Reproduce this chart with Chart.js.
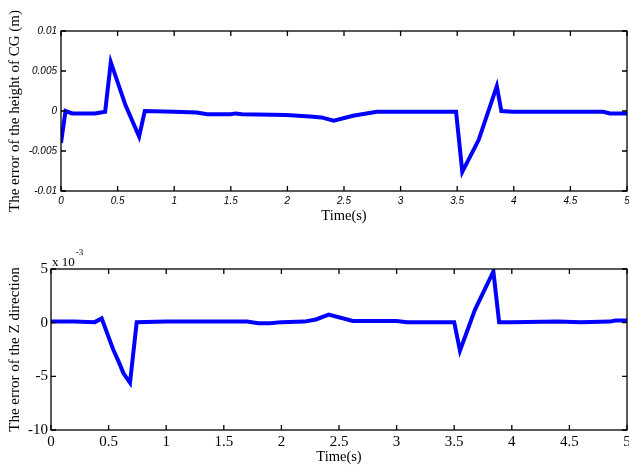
<!DOCTYPE html>
<html><head><meta charset="utf-8">
<script src="https://cdn.jsdelivr.net/npm/chart.js@4"></script>
<style>
html,body{margin:0;padding:0;background:#fff;width:629px;height:466px;overflow:hidden}
#c1{position:absolute;left:0;top:0;width:629px;height:230px}
#c2{position:absolute;left:0;top:240px;width:629px;height:226px}
</style></head><body>
<canvas id="c1" width="629" height="230"></canvas>
<canvas id="c2" width="629" height="226"></canvas>
<script>
// ---- data: top plot (error of the height of CG, m) ----
const timeCG = [0, 0.04, 0.1, 0.3, 0.39, 0.44, 0.57, 0.69, 0.74, 1.0, 1.2, 1.29, 1.5, 1.54, 1.6, 1.99, 2.2, 2.3, 2.41, 2.58, 2.79, 3.0, 3.49, 3.545, 3.69, 3.85, 3.89, 3.99, 4.79, 4.85, 5.0];
const errCG  = [-0.004, 0, -0.0003, -0.0003, -0.0001, 0.0061, 0.0007, -0.0032, 0, -0.0001, -0.0002, -0.0004, -0.0004, -0.0003, -0.0004, -0.0005, -0.0007, -0.0008, -0.0012, -0.0006, -0.0001, -0.0001, -0.0001, -0.0076, -0.0036, 0.0031, 0, -0.0001, -0.0001, -0.0003, -0.0003];

// ---- data: bottom plot (error of the Z direction, x 10^-3) ----
const timeZ = [0, 0.2, 0.38, 0.44, 0.5, 0.54, 0.59, 0.628, 0.686, 0.744, 1.0, 1.5, 1.7, 1.8, 1.9, 2.0, 2.2, 2.3, 2.41, 2.62, 3.0, 3.09, 3.5, 3.55, 3.68, 3.84, 3.89, 4.0, 4.4, 4.6, 4.85, 4.9, 5.0];
const errZ  = [0.1, 0.1, 0.05, 0.4, -1.35, -2.5, -3.7, -4.7, -5.6, 0.05, 0.1, 0.1, 0.1, -0.05, -0.05, 0.05, 0.1, 0.3, 0.75, 0.15, 0.15, 0.05, 0.05, -2.6, 1.2, 4.77, 0.05, 0.05, 0.1, 0.05, 0.1, 0.2, 0.2];

// ---- ticks ----
const xTickValues = [0, 0.5, 1, 1.5, 2, 2.5, 3, 3.5, 4, 4.5, 5];
const xTickLabels = ['0', '0.5', '1', '1.5', '2', '2.5', '3', '3.5', '4', '4.5', '5'];
const yTickValuesCG = [-0.01, -0.005, 0, 0.005, 0.01];
const yTickLabelsCG = ['-0.01', '-0.005', '0', '0.005', '0.01'];
const yTickValuesZ = [-10, -5, 0, 5];
const yTickLabelsZ = ['-10', '-5', '0', '5'];

const boxTicks = {
  id: 'boxTicks',
  afterDraw(chart, args, opts) {
    const {ctx, chartArea: a, scales: {x, y}} = chart;
    ctx.save();
    ctx.strokeStyle = '#000';
    ctx.lineWidth = 1.3;
    ctx.strokeRect(a.left, a.top, a.right - a.left, a.bottom - a.top);
    const L = 5;
    ctx.beginPath();
    x.ticks.forEach(t => {
      const px = x.getPixelForValue(t.value);
      ctx.moveTo(px, a.bottom); ctx.lineTo(px, a.bottom - L);
      ctx.moveTo(px, a.top); ctx.lineTo(px, a.top + L);
    });
    y.ticks.forEach(t => {
      const py = y.getPixelForValue(t.value);
      ctx.moveTo(a.left, py); ctx.lineTo(a.left + L, py);
      ctx.moveTo(a.right, py); ctx.lineTo(a.right - L, py);
    });
    ctx.stroke();
    if (opts && opts.exponent) {
      ctx.fillStyle = '#000';
      ctx.textBaseline = 'alphabetic';
      ctx.font = '13px "Liberation Serif", serif';
      ctx.fillText('x 10', a.left + 1, a.top - 3);
      const w = ctx.measureText('x 10').width;
      ctx.font = '9px "Liberation Serif", serif';
      ctx.fillText('-3', a.left + 1 + w + 1, a.top - 14);
    }
    ctx.restore();
  }
};

function makeChart(el, tArr, vArr, cfg) {
  return new Chart(el, {
    type: 'line',
    data: { datasets: [{
      data: tArr.map((t, i) => ({x: t, y: vArr[i]})),
      borderColor: '#0000ff', borderWidth: 4, pointRadius: 0, tension: 0, fill: false,
      borderJoinStyle: 'miter'
    }]},
    options: {
      responsive: false, animation: false,
      layout: { padding: { left: 0, right: 2, top: cfg.top, bottom: 0 } },
      plugins: { legend: {display: false}, tooltip: {enabled: false}, boxTicks: {exponent: cfg.exponent} },
      scales: {
        x: {
          type: 'linear', min: 0, max: 5,
          afterBuildTicks: s => { s.ticks = xTickValues.map(v => ({value: v})); },
          ticks: { autoSkip: false, maxRotation: 0, padding: cfg.xPad, color: '#000', font: cfg.tickFont,
                   callback: (v) => xTickLabels[xTickValues.indexOf(v)] },
          grid: { display: false, drawTicks: false }, border: { display: false },
          title: { display: true, text: 'Time(s)', color: '#000',
                   font: { family: '"Liberation Serif", serif', size: 14.5 }, padding: { top: 0, bottom: cfg.xTitlePad } },
          afterFit: s => { s.height = cfg.xHeight; s.paddingLeft = 0; s.paddingRight = 0; }
        },
        y: {
          type: 'linear', min: cfg.yMin, max: cfg.yMax,
          afterBuildTicks: s => { s.ticks = cfg.yVals.map(v => ({value: v})); },
          ticks: { autoSkip: false, padding: cfg.yPad, color: '#000', font: cfg.tickFont,
                   callback: (v) => cfg.yLabels[cfg.yVals.indexOf(v)] },
          grid: { display: false, drawTicks: false }, border: { display: false },
          title: { display: true, text: cfg.yTitle, color: '#000',
                   font: { family: '"Liberation Serif", serif', size: 15 }, padding: { top: 6, bottom: 0 } },
          afterFit: s => { s.width = cfg.yWidth; s.paddingTop = 0; s.paddingBottom = 0; }
        }
      }
    },
    plugins: [boxTicks]
  });
}

makeChart(document.getElementById('c1'), timeCG, errCG, {
  top: 31, xHeight: 39, yWidth: 61, xPad: 4, yPad: 4, xTitlePad: 5,
  yMin: -0.01, yMax: 0.01, yVals: yTickValuesCG, yLabels: yTickLabelsCG,
  yTitle: 'The error of the height of CG (m)',
  tickFont: { family: '"Liberation Sans", Arial, sans-serif', size: 10, style: 'italic' },
  exponent: false
});

makeChart(document.getElementById('c2'), timeZ, errZ, {
  top: 29, xHeight: 36, yWidth: 51, xPad: 3, yPad: 3, xTitlePad: 0,
  yMin: -10, yMax: 5, yVals: yTickValuesZ, yLabels: yTickLabelsZ,
  yTitle: 'The error of the Z direction',
  tickFont: { family: '"Liberation Serif", serif', size: 15 },
  exponent: true
});
</script>
</body></html>
